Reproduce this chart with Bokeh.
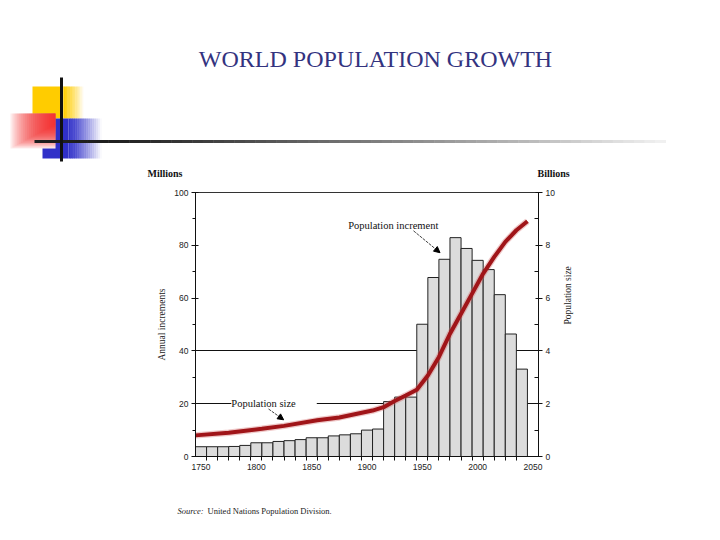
import math
from bokeh.plotting import figure
from bokeh.models import Range1d, LinearAxis, FixedTicker, Label, Arrow, NormalHead
from bokeh.embed import file_html
from bokeh.resources import INLINE

# values
decades = [1750, 1760, 1770, 1780, 1790, 1800, 1810, 1820, 1830, 1840,
           1850, 1860, 1870, 1880, 1890, 1900, 1910, 1920, 1930, 1940,
           1950, 1960, 1970, 1980, 1990, 2000, 2010, 2020, 2030, 2040]
annual_increment = [3.7, 3.7, 3.7, 3.8, 4.2, 5.2, 5.2, 5.7, 6.0, 6.4,
                    7.1, 7.1, 7.8, 8.2, 8.6, 10.0, 10.4, 20.8, 22.5, 22.5,
                    50.1, 67.8, 74.7, 82.9, 78.8, 74.3, 70.8, 61.3, 46.4, 33.1]  # millions

pop_years = [1745, 1775, 1805, 1825, 1855, 1875, 1905, 1915, 1925, 1935, 1945,
             1955, 1965, 1975, 1985, 1995, 2005, 2015, 2025, 2035, 2045]
pop_billions = [0.80, 0.90, 1.05, 1.16, 1.37, 1.48, 1.74, 1.87, 2.10, 2.31, 2.53,
                3.07, 3.77, 4.65, 5.41, 6.17, 6.93, 7.56, 8.13, 8.57, 8.91]

year_ticks = [1750, 1800, 1850, 1900, 1950, 2000, 2050]
millions_ticks = [0, 20, 40, 60, 80, 100]
billions_ticks = [0, 2, 4, 6, 8, 10]

SERIF = "Liberation Serif"
SANS = "Liberation Sans"


def blank_fig(height, y0):
    """figure whose data coords are page pixels"""
    f = figure(width=704, height=height, x_range=Range1d(0, 704), y_range=Range1d(y0 + height, y0),
               output_backend="svg", toolbar_location=None, min_border=0)
    f.axis.visible = False
    f.grid.visible = False
    f.outline_line_color = None
    return f


def fade_box(p, x0, x_solid, x1, y0, y1, color, steps=16):
    """solid colour from x0 to x_solid, then fading out to x1"""
    p.quad(left=x0, right=x_solid, top=y0, bottom=y1, fill_color=color, line_color=None)
    w = (x1 - x_solid) / steps
    for i in range(steps):
        a = 1 - (i + 0.5) / steps
        p.quad(left=x_solid + i * w, right=x_solid + (i + 1) * w + 0.3, top=y0, bottom=y1,
               fill_color=color, fill_alpha=a, line_color=None)


# ---- slide header with the decoration ----
top = blank_fig(180, 0)

fade_box(top, 32, 63, 83, 86, 118, "#ffcc00")
fade_box(top, 42, 68, 101, 118, 158, "#3030c8")

# red square: nested boxes anchored at its top right corner, so it fades
# to white towards the left and the bottom
top.quad(left=10, right=55, top=113, bottom=148, fill_color="white", line_color=None)
n_red = 22
for k in range(n_red):
    f = (k + 1) / n_red
    top.quad(left=55 - 45 * f, right=55, top=113, bottom=113 + 35 * (0.3 + 0.7 * f),
             fill_color="#f01515", fill_alpha=0.085, line_color=None)

# fading rule
n = 60
for i in range(n):
    xa = 34 + i * (665 - 34) / n
    xb = 34 + (i + 1) * (665 - 34) / n + 0.5
    g = int(30 + 215 * max(0, (i - 6) / (n - 6)) ** 1.1)
    top.segment(x0=xa, y0=141, x1=xb, y1=141, line_color="#%02x%02x%02x" % (g, g, g), line_width=3)
top.segment(x0=61, y0=77, x1=61, y1=161, line_color="#111111", line_width=3)

top.add_layout(Label(x=375, y=58, text="WORLD POPULATION GROWTH", text_align="center",
                     text_baseline="middle", text_font=SERIF, text_font_size="24px",
                     text_color="#33337f"))
top.add_layout(Label(x=147, y=173, text="Millions", text_font=SERIF, text_font_size="10px",
                     text_font_style="bold", text_baseline="middle", text_color="#111111"))
top.add_layout(Label(x=537, y=173, text="Billions", text_font=SERIF, text_font_size="10px",
                     text_font_style="bold", text_baseline="middle", text_color="#111111"))

# ---- the chart ----
p = figure(width=704, height=302, x_range=Range1d(1745, 2055), y_range=Range1d(0, 100),
           min_border_left=195, min_border_right=166, min_border_top=12, min_border_bottom=26,
           output_backend="svg", toolbar_location=None)
p.extra_y_ranges = {"billions": Range1d(0, 10)}

p.xgrid.visible = False
p.ygrid.ticker = FixedTicker(ticks=[20, 40])
p.ygrid.grid_line_color = "#111111"
p.outline_line_color = "#333333"

p.vbar(x=decades, top=annual_increment, width=10, fill_color="#dcdcdc",
       line_color="#222222", line_width=1)

p.line(pop_years, pop_billions, y_range_name="billions", line_color="#d06060",
       line_width=6.5, line_alpha=0.35)
p.line(pop_years, pop_billions, y_range_name="billions", line_color="#a01519", line_width=4)

# axes
edges = [d + 5 for d in decades[:-1]]
p.xaxis.ticker = FixedTicker(ticks=year_ticks, minor_ticks=edges)
p.xaxis.major_tick_in = 0
p.xaxis.major_tick_out = 0
p.xaxis.minor_tick_in = 0
p.xaxis.minor_tick_out = 4

p.yaxis.ticker = FixedTicker(ticks=millions_ticks, minor_ticks=[10, 30, 50, 70, 90])
p.yaxis.axis_label = "Annual increments"
p.yaxis.major_tick_in = 3
p.yaxis.major_tick_out = 4
p.yaxis.minor_tick_in = 0
p.yaxis.minor_tick_out = 3

right = LinearAxis(y_range_name="billions", axis_label="Population size",
                   ticker=FixedTicker(ticks=billions_ticks, minor_ticks=[1, 3, 5, 7, 9]))
right.major_tick_in = 3
right.major_tick_out = 4
right.minor_tick_in = 4
right.minor_tick_out = 0
right.axis_label_orientation = math.pi / 2
p.add_layout(right, "right")

for ax in p.xaxis + p.yaxis + [right]:
    ax.axis_line_color = "#111111"
    ax.major_tick_line_color = "#111111"
    ax.minor_tick_line_color = "#111111"
    ax.major_label_text_font = SANS
    ax.major_label_text_font_size = "8.5px"
    ax.major_label_text_color = "#222222"
    ax.major_label_standoff = 3
    ax.axis_label_text_font = SERIF
    ax.axis_label_text_font_style = "normal"
    ax.axis_label_text_font_size = "9.5px"
    ax.axis_label_text_color = "#222222"
p.yaxis.axis_label_standoff = 4
right.axis_label_standoff = 10

# annotations
p.add_layout(Label(x=1883, y=87.6, text="Population increment", text_font=SERIF,
                   text_font_size="10.5px", text_baseline="middle", text_color="#111111"))
p.add_layout(Arrow(end=NormalHead(size=6, fill_color="black", line_color="black"),
                   x_start=1942, y_start=85.5, x_end=1966, y_end=77.2,
                   line_width=0.8, line_dash="3 1", line_color="#111111"))

# spaces so the white box cuts a gap in the 20 grid line
p.add_layout(Label(x=1816, y=20.2, text="    Population size    ", text_font=SERIF,
                   text_font_size="10.5px", text_align="center", text_baseline="middle",
                   text_color="#111111", background_fill_color="white"))
p.add_layout(Arrow(end=NormalHead(size=6, fill_color="black", line_color="black"),
                   x_start=1811, y_start=18.0, x_end=1824.7, y_end=13.9,
                   line_width=0.8, line_dash="3 1", line_color="#111111"))

# ---- source line ----
bottom = blank_fig(50, 482)
bottom.add_layout(Label(x=177, y=510, text="Source:", text_font=SERIF, text_font_size="8.5px",
                        text_font_style="italic", text_baseline="middle", text_color="#222222"))
bottom.add_layout(Label(x=207, y=510, text="United Nations Population Division.", text_font=SERIF,
                        text_font_size="8.5px", text_baseline="middle", text_color="#222222"))

# separate roots stacked on the page, so their frames are not aligned
open("out.html", "w").write(file_html([top, p, bottom], INLINE))
